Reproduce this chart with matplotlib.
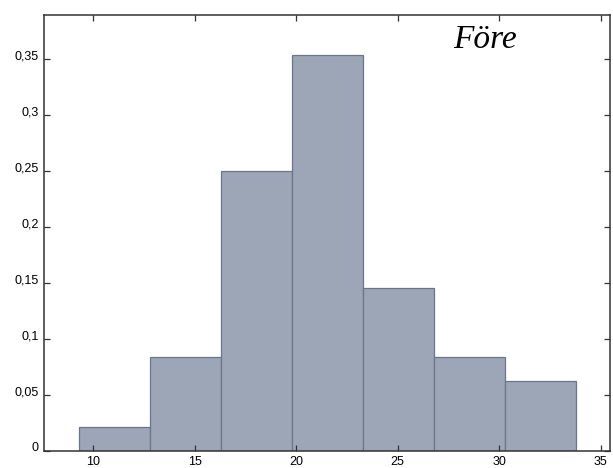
import numpy as np
import matplotlib.pyplot as plt
from matplotlib.ticker import FuncFormatter
from matplotlib.transforms import ScaledTranslation

# histogram "Före": 48 observations, bin width 3.5
bin_edges = [9.3, 12.8, 16.3, 19.8, 23.3, 26.8, 30.3, 33.8]
counts = [1, 4, 12, 17, 7, 4, 3]
total = 48
rel_freq = [c / total for c in counts]

x_ticks = [10, 15, 20, 25, 30, 35]
y_ticks = [0, 0.05, 0.1, 0.15, 0.2, 0.25, 0.3, 0.35]

fig = plt.figure(figsize=(6.13, 4.68), dpi=100)
ax = fig.add_axes([0.0723, 0.0372, 0.9227, 0.9314])

lefts = np.array(bin_edges[:-1])
widths = np.diff(bin_edges)
ax.bar(lefts, rel_freq, width=widths, align='edge',
       color='#9da6b7', edgecolor='#6b768b', linewidth=0.9)

ax.set_xlim(7.6, 35.46)
ax.set_ylim(0, 0.39)
ax.set_xticks(x_ticks)
ax.set_yticks(y_ticks)

def comma(v, pos):
    s = ('%g' % v).replace('.', ',')
    return s

ax.yaxis.set_major_formatter(FuncFormatter(comma))
ax.tick_params(direction='in', length=4, width=0.9, color='#333333',
               top=True, right=True, labelsize=9, pad=4)
# y labels sit a little above their ticks in the original
shift = ScaledTranslation(0, 3 / 72, fig.dpi_scale_trans)
for lab in ax.get_yticklabels():
    lab.set_transform(lab.get_transform() + shift)
for lab in ax.get_xticklabels() + ax.get_yticklabels():
    lab.set_family(['Liberation Sans', 'DejaVu Sans'])
for sp in ax.spines.values():
    sp.set_linewidth(1.1)
    sp.set_color('#333333')

ax.text(0.78, 0.924, 'Före', transform=ax.transAxes, ha='center',
        va='baseline', fontsize=24, style='italic',
        family=['Liberation Serif', 'DejaVu Serif'])

fig.savefig('out.png', dpi=100)
